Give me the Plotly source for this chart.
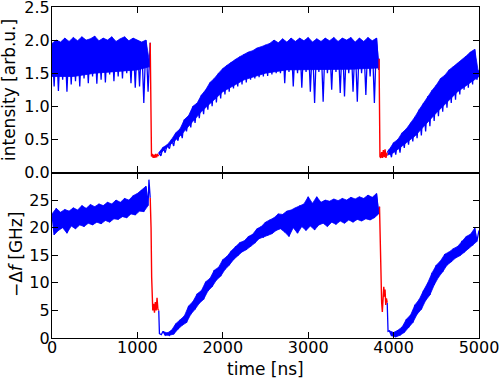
import plotly.graph_objects as go

# ---------------- data ----------------
STEP = 50  # ns between successive (high, low) pairs

# Top panel: intensity [arb.u.]
int_A_start = 0
int_A_hi = [1.95, 2.0, 1.97, 2.03, 1.98, 2.04, 1.99, 2.05, 2.0, 2.02, 2.06, 1.99,
            2.03, 2.0, 2.05, 1.98, 2.02, 2.05, 1.99, 2.03, 2.0, 1.97, 2.0]
int_A_lo = [1.3, 1.23, 1.4, 1.22, 1.33, 1.38, 1.3, 1.42, 1.35, 1.45, 1.34, 1.4,
            1.36, 1.48, 1.38, 1.45, 1.42, 1.5, 1.35, 1.28, 1.3, 1.05, 1.22]
int_A_end_t, int_A_end_v = [1150], [1.96]
# lower edge of the solid part of the band
int_A_core_t = [0, 250, 500, 750, 1000, 1150]
int_A_core_v = [1.45, 1.45, 1.5, 1.52, 1.55, 1.6]

int_red1_t = [1150, 1165, 1175, 1185, 1195, 1205, 1215, 1225, 1235, 1250]
int_red1_v = [1.96, 0.24, 0.28, 0.22, 0.27, 0.22, 0.28, 0.23, 0.27, 0.25]

int_B_start = 1250
int_B_hi = [0.30, 0.38, 0.42, 0.50, 0.60, 0.66, 0.80, 0.86, 1.0, 1.05, 1.17, 1.25,
            1.36, 1.42, 1.50, 1.57, 1.62, 1.67, 1.71, 1.75, 1.79, 1.82, 1.84, 1.88,
            1.90, 1.93, 1.95, 2.0, 1.96, 2.02, 1.97, 2.03, 1.98, 2.03, 1.99, 2.04,
            1.97, 2.02, 1.98, 2.03, 1.99, 2.04, 1.98, 2.03, 2.0, 2.04, 1.97, 2.03,
            1.98, 2.04, 1.99, 2.03]
int_B_lo = [0.25, 0.30, 0.36, 0.40, 0.48, 0.52, 0.62, 0.68, 0.75, 0.82, 0.88, 0.95,
            1.0, 1.06, 1.12, 1.18, 1.22, 1.27, 1.30, 1.33, 1.36, 1.40, 1.42, 1.44,
            1.45, 1.46, 1.48, 1.50, 1.50, 1.35, 1.52, 1.30, 1.50, 1.28, 1.52, 1.22,
            1.05, 1.52, 1.07, 1.50, 1.25, 1.52, 1.20, 1.15, 1.50, 1.22, 1.07, 1.50,
            1.17, 1.45, 1.05, 1.55]
int_B_end_t, int_B_end_v = [3830], [1.72]
int_B_core_t = [1250, 1500, 1750, 2000, 2250, 2500, 2750, 3000, 3250, 3500, 3830]
int_B_core_v = [0.27, 0.55, 0.92, 1.22, 1.40, 1.50, 1.55, 1.56, 1.56, 1.56, 1.58]

int_red2_t = [3830, 3840, 3850, 3860, 3870, 3880, 3890, 3900, 3910, 3925]
int_red2_v = [1.72, 0.24, 0.22, 0.31, 0.22, 0.34, 0.23, 0.35, 0.22, 0.30]

int_C_start = 3950
int_C_first_t, int_C_first_v = [3925], [0.30]
int_C_hi = [0.35, 0.45, 0.50, 0.60, 0.66, 0.75, 0.84, 0.95, 1.05, 1.15, 1.24, 1.32,
            1.42, 1.47, 1.55, 1.60, 1.65, 1.70, 1.76, 1.82, 1.86]
int_C_lo = [0.23, 0.27, 0.30, 0.37, 0.42, 0.47, 0.52, 0.56, 0.62, 0.70, 0.78, 0.85,
            0.92, 0.98, 1.05, 1.10, 1.18, 1.25, 1.28, 1.33, 1.40]
int_C_end_t, int_C_end_v = [5000], [1.55]
int_C_core_t = [3925, 4000, 4250, 4500, 4750, 5000]
int_C_core_v = [0.26, 0.30, 0.55, 0.90, 1.22, 1.45]

# Bottom panel: -Δf [GHz]
df_A_start = 0
df_A_hi = [22.5, 23.5, 22.8, 23.3, 23.0, 23.6, 23.2, 24.0, 23.5, 24.2, 23.8, 24.3,
           24.0, 24.6, 24.3, 25.0, 24.6, 25.3, 25.0, 25.8, 26.2, 26.8, 27.5]
df_A_lo = [18.7, 19.5, 20.0, 19.0, 20.3, 19.8, 20.5, 20.2, 20.8, 20.5, 21.0, 20.7,
           21.3, 21.0, 21.6, 21.5, 22.0, 21.8, 22.5, 22.3, 23.0, 22.9, 24.0]
df_A_end_t, df_A_end_v = [1135, 1150], [28.7, 25.4]

df_red1_t = [1150, 1160, 1167, 1172, 1180, 1190, 1200, 1210, 1220, 1230, 1240, 1250]
df_red1_v = [25.4, 20.0, 11.0, 7.5, 5.0, 6.2, 4.6, 6.5, 5.0, 7.3, 5.2, 5.0]

df_B_first_t, df_B_first_v = [1250, 1258, 1280], [5.0, 0.8, 0.6]
df_B_start = 1300
df_B_hi = [1.2, 0.9, 1.4, 2.6, 3.3, 4.0, 5.8, 6.6, 8.0, 8.6, 10.2, 10.8, 12.3, 12.8,
           14.2, 14.8, 15.8, 16.6, 17.3, 17.6, 18.4, 18.8, 19.8, 20.2, 21.0, 21.4,
           21.8, 22.5, 22.4, 23.0, 23.2, 23.6, 24.0, 24.3, 25.6, 24.4, 25.6, 24.6,
           25.0, 24.8, 25.2, 24.9, 25.3, 25.0, 25.5, 25.2, 25.6, 25.3, 25.9, 25.5, 26.2]
df_B_lo = [0.5, 0.5, 0.7, 1.6, 2.3, 2.8, 4.3, 5.2, 6.3, 7.0, 8.5, 9.3, 10.5, 11.2,
           12.4, 13.2, 14.2, 14.9, 15.6, 16.0, 16.6, 17.2, 18.0, 18.2, 18.6, 18.9,
           19.5, 19.8, 19.2, 18.4, 20.0, 19.0, 20.2, 19.5, 20.3, 19.6, 20.5, 20.8,
           20.2, 21.0, 20.6, 21.2, 20.8, 21.4, 21.0, 21.5, 21.2, 21.6, 21.4, 21.8, 22.5]
df_B_end_t, df_B_end_v = [3835], [23.8]

df_red2_t = [3835, 3845, 3852, 3860, 3868, 3875, 3885, 3892, 3900, 3908, 3916, 3925]
df_red2_v = [23.8, 15.0, 8.2, 6.5, 4.7, 7.0, 9.3, 7.5, 8.8, 6.0, 7.2, 6.4]

df_C_first_t, df_C_first_v = [3925, 3935], [6.4, 1.2]
df_C_start = 3950
df_C_hi = [1.3, 1.0, 1.4, 2.0, 3.4, 4.2, 6.0, 7.0, 8.6, 10.0, 11.8, 13.2, 14.0, 15.2,
           15.6, 16.2, 16.6, 17.6, 18.4, 18.8, 19.9]
df_C_lo = [0.4, 0.2, 0.5, 1.0, 1.9, 2.8, 4.3, 5.2, 6.8, 7.8, 9.6, 11.0, 12.0, 13.2,
           13.8, 14.5, 14.9, 15.5, 16.2, 16.8, 17.5]
df_C_end_t, df_C_end_v = [5000], [19.5]

x_ticks = [0, 1000, 2000, 3000, 4000, 5000]
int_ticks = [0.0, 0.5, 1.0, 1.5, 2.0, 2.5]
df_ticks = [0, 5, 10, 15, 20, 25]


def zig(start, hi, lo, pre_t=(), pre_v=(), post_t=(), post_v=()):
    xs, ys = list(pre_t), list(pre_v)
    for i, (h, l) in enumerate(zip(hi, lo)):
        xs += [start + i * STEP, start + i * STEP + STEP / 2]
        ys += [h, l]
    xs += list(post_t)
    ys += list(post_v)
    return xs, ys


def band(start, hi, lo_t, lo_v, half=0):
    """polygon: high points forward, then given lower edge backward"""
    xs = [start + i * STEP + half for i in range(len(hi))]
    return xs + list(lo_t)[::-1], list(hi) + list(lo_v)[::-1]


BLUE = "#0000ff"
RED = "#ff0000"
fig = go.Figure()


def add_fill(xs, ys, xa, ya):
    fig.add_trace(go.Scatter(x=xs, y=ys, mode="lines", fill="toself",
                             fillcolor=BLUE, xaxis=xa, yaxis=ya,
                             line=dict(color=BLUE, width=0.8), hoverinfo="skip"))


def add_line(xs, ys, xa, ya, color=BLUE, width=1.3):
    fig.add_trace(go.Scatter(x=xs, y=ys, mode="lines", xaxis=xa, yaxis=ya,
                             line=dict(color=color, width=width), hoverinfo="skip"))


# top panel solid bands
for start, hi, ct, cv in [(int_A_start, int_A_hi, int_A_core_t, int_A_core_v),
                          (int_B_start, int_B_hi, int_B_core_t, int_B_core_v),
                          (int_C_start, int_C_hi, int_C_core_t, int_C_core_v)]:
    xs, ys = band(start, hi, ct, cv)
    add_fill(xs, ys, "x", "y")

# bottom panel solid bands (between high and low points)
for start, hi, lo in [(df_A_start, df_A_hi, df_A_lo),
                      (df_B_start, df_B_hi, df_B_lo),
                      (df_C_start, df_C_hi, df_C_lo)]:
    lo_t = [start + i * STEP + STEP / 2 for i in range(len(lo))]
    xs, ys = band(start, hi, lo_t, lo)
    add_fill(xs, ys, "x2", "y2")

# oscillating traces
for xs, ys in [
    zig(int_A_start, int_A_hi, int_A_lo, post_t=int_A_end_t, post_v=int_A_end_v),
    zig(int_B_start, int_B_hi, int_B_lo, post_t=int_B_end_t, post_v=int_B_end_v),
    zig(int_C_start, int_C_hi, int_C_lo, int_C_first_t, int_C_first_v,
        int_C_end_t, int_C_end_v),
]:
    add_line(xs, ys, "x", "y")
for xs, ys in [
    zig(df_A_start, df_A_hi, df_A_lo, post_t=df_A_end_t, post_v=df_A_end_v),
    zig(df_B_start, df_B_hi, df_B_lo, df_B_first_t, df_B_first_v,
        df_B_end_t, df_B_end_v),
    zig(df_C_start, df_C_hi, df_C_lo, df_C_first_t, df_C_first_v,
        df_C_end_t, df_C_end_v),
]:
    add_line(xs, ys, "x2", "y2")

for xs, ys in [(int_red1_t, int_red1_v), (int_red2_t, int_red2_v)]:
    add_line(xs, ys, "x", "y", RED, 1.4)
for xs, ys in [(df_red1_t, df_red1_v), (df_red2_t, df_red2_v)]:
    add_line(xs, ys, "x2", "y2", RED, 1.4)

FONT = "DejaVu Sans"
TICK_FS = 16
axis_common = dict(showline=True, linecolor="black", linewidth=1.2, mirror="allticks",
                   ticks="inside", ticklen=6, tickwidth=1, tickcolor="black",
                   showgrid=False, zeroline=False, automargin=False,
                   ticklabeloverflow="allow",
                   tickfont=dict(size=TICK_FS, color="black"))

L, R, T, B = 52, 21, 7, 41
PW, PH = 500 - L - R, 379 - T - B


def px_x(x):
    return (x - L) / PW


def px_y(y):
    return (379 - B - y) / PH


fig.update_layout(
    width=500, height=379,
    margin=dict(l=L, r=R, t=T, b=B, autoexpand=False),
    paper_bgcolor="white", plot_bgcolor="white",
    showlegend=False,
    font=dict(family=FONT, size=17, color="black"),
    xaxis=dict(domain=[0, 1], anchor="y", range=[0, 5000], tickvals=x_ticks,
               showticklabels=False, **axis_common),
    yaxis=dict(domain=[0.5, 1], anchor="x", range=[0, 2.5], tickvals=int_ticks,
               tickformat=".1f", ticklabelstandoff=-2, **axis_common),
    xaxis2=dict(domain=[0, 1], anchor="y2", range=[0, 5000], tickvals=x_ticks,
                ticklabelstandoff=-5, **axis_common),
    yaxis2=dict(domain=[0, 0.5], anchor="x2", range=[0, 30], tickvals=df_ticks,
                ticklabelstandoff=-2, **axis_common),
    annotations=[
        dict(text="intensity [arb.u.]", xref="paper", yref="paper",
             x=px_x(9), y=px_y(90), xanchor="center", yanchor="middle",
             textangle=-90, showarrow=False, font=dict(size=17)),
        dict(text="\u2212\u0394<i>f</i> [GHz]", xref="paper", yref="paper",
             x=px_x(16), y=px_y(255), xanchor="center", yanchor="middle",
             textangle=-90, showarrow=False, font=dict(size=17)),
        dict(text="time [ns]", xref="paper", yref="paper",
             x=px_x(265), y=px_y(369), xanchor="center", yanchor="middle",
             showarrow=False, font=dict(size=17)),
    ],
)

fig.write_html("out.html", config={"displayModeBar": False},
               post_script="document.body.style.margin='0';"
                           "document.body.style.padding='0';")
